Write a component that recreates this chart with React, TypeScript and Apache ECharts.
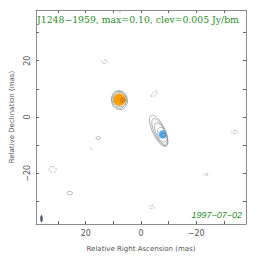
import React, { useEffect, useRef } from "react";
import * as echarts from "echarts";

// axis ranges and ticks (mas)
const axisMin = -38;
const axisMax = 38;
const tickValues = [-30, -20, -10, 0, 10, 20, 30];
const labelValues = [-20, 0, 20];

// positive contours: [cx, cy, semiMajor, semiMinor, angleDeg]
const positiveContours: number[][] = [
  [7.8, 6.0, 3.4, 2.9, 80],
  [7.9, 6.1, 3.0, 2.6, 80],
  [7.7, 6.2, 2.6, 2.4, 80],
  [-6.4, -4.9, 6.1, 2.2, 64],
  [-6.8, -5.4, 5.3, 1.9, 64],
  [-7.2, -5.9, 4.1, 1.7, 66],
  [-7.7, -6.3, 2.7, 1.6, 70],
  [15.5, -7.5, 0.5, 0.8, 90],
  [25.8, -27.0, 0.6, 1.0, 90],
];

// negative contours (dashed)
const negativeContours: number[][] = [
  [13.1, 19.6, 0.6, 1.0, 80],
  [-4.8, 8.2, 1.4, 0.6, -45],
  [32.0, -18.6, 1.0, 1.3, 90],
  [-3.9, -32.0, 0.6, 0.9, 90],
  [-23.7, -20.4, 0.3, 0.8, 90],
  [-34.0, -5.4, 0.5, 1.2, 90],
  [7.8, 37.8, 0.8, 0.5, 0],
  [18.0, -11.4, 0.2, 0.2, 0],
];

// model components: [cx, cy, radius]
const orangeComponent = [[7.8, 6.2, 2.2]];
const blueComponent = [[-7.9, -6.2, 1.5]];
// inner contours on components
const orangeInner = [[6.6, 6.0, 0.9, 0.8, 0], [6.6, 6.0, 0.45, 0.4, 0]];
const blueInner = [[-8.0, -6.4, 0.8, 0.7, 0]];
// beam: [cx, cy, semiMajor, semiMinor, angleDeg]
const beam = [[36.0, -36.1, 1.2, 0.4, 90]];

const titleText = "J1248\u22121959, max=0.10, clev=0.005 Jy/bm";
const dateText = "1997\u221207\u221202";

function ellipseItem(style: any) {
  return (params: any, api: any) => {
    const cx = api.value(0);
    const cy = api.value(1);
    const a = api.value(2);
    const b = api.value(3);
    const th = ((api.value(4) || 0) * Math.PI) / 180;
    const pts: number[][] = [];
    const n = 36;
    for (let i = 0; i < n; i++) {
      const t = (i / n) * Math.PI * 2;
      const x = cx + a * Math.cos(t) * Math.cos(th) - b * Math.sin(t) * Math.sin(th);
      const y = cy + a * Math.cos(t) * Math.sin(th) + b * Math.sin(t) * Math.cos(th);
      pts.push(api.coord([x, y]));
    }
    return { type: "polygon", shape: { points: pts }, style };
  };
}

function circleData(arr: number[][]) {
  return arr.map((d) => [d[0], d[1], d[2], d[2], 0]);
}

export default function App() {
  const ref = useRef<HTMLDivElement>(null);
  useEffect(() => {
    if (!ref.current) return;
    const chart = echarts.init(ref.current, null, { renderer: "svg" });
    const frame = "#8c8c8c";
    const labelFont = { color: "#555", fontSize: 8, fontFamily: "DejaVu Sans" };
    const nameFont = { color: "#555", fontSize: 7, fontFamily: "DejaVu Sans" };
    const fmt = (v: number) => (v < 0 ? "\u2212" + -v : String(v));
    const mkX = (pos: "bottom" | "top", show: boolean) => ({
      type: "value",
      position: pos,
      min: axisMin,
      max: axisMax,
      inverse: true,
      name: show ? "Relative Right Ascension (mas)" : "",
      nameLocation: "middle",
      nameGap: 21,
      nameTextStyle: nameFont,
      axisLine: { show: true, onZero: false, lineStyle: { color: frame, width: 1 } },
      axisTick: { show: true, inside: true, length: 3, customValues: tickValues, lineStyle: { color: "#666" } },
      axisLabel: { show, customValues: labelValues, margin: 5, formatter: fmt, ...labelFont },
      splitLine: { show: false },
    });
    const mkY = (pos: "left" | "right", show: boolean) => ({
      type: "value",
      position: pos,
      min: axisMin,
      max: axisMax,
      name: show ? "Relative Declination (mas)" : "",
      nameLocation: "middle",
      nameGap: 21,
      nameTextStyle: nameFont,
      axisLine: { show: true, onZero: false, lineStyle: { color: frame, width: 1 } },
      axisTick: { show: true, inside: true, length: 3, customValues: tickValues, lineStyle: { color: "#666" } },
      axisLabel: { show, rotate: 90, customValues: labelValues, margin: 5, formatter: fmt, ...labelFont },
      splitLine: { show: false },
    });
    const custom = (data: number[][], style: any, z = 2) => ({
      type: "custom",
      xAxisIndex: 0,
      yAxisIndex: 0,
      clip: true,
      z,
      renderItem: ellipseItem(style),
      data,
    });
    chart.setOption({
      animation: false,
      grid: { left: 31, right: 18, top: 10, bottom: 38 },
      xAxis: [mkX("bottom", true), mkX("top", false)],
      yAxis: [mkY("left", true), mkY("right", false)],
      graphic: [
        {
          type: "text",
          left: 37,
          top: 15,
          style: { text: titleText, fill: "#2e8b2e", font: "9.3px 'DejaVu Serif'" },
        },
        {
          type: "text",
          right: 22,
          top: 210,
          style: { text: dateText, fill: "#2e8b2e", font: "italic 9px 'Liberation Sans'" },
        },
      ],
      series: [
        custom(circleData(orangeComponent), { fill: "#f5a000", stroke: "none" }, 2),
        custom(circleData(blueComponent), { fill: "#5aaeea", stroke: "none" }, 2),
        custom(positiveContours, { fill: "none", stroke: "#9a9a9a", lineWidth: 0.8 }, 3),
        custom(negativeContours, { fill: "none", stroke: "#9a9a9a", lineWidth: 0.8, lineDash: [2, 1.5] }, 3),
        custom(orangeInner, { fill: "none", stroke: "#c07000", lineWidth: 0.8 }, 4),
        custom(blueInner, { fill: "none", stroke: "#3a80c0", lineWidth: 0.8 }, 4),
        custom(beam, { fill: "#4a5a78", stroke: "#4a5a78", lineWidth: 0.5 }, 4),
      ],
    });
    return () => chart.dispose();
  }, []);
  return <div ref={ref} style={{ position: "absolute", left: 0, top: 0, width: 264, height: 262 }} />;
}
